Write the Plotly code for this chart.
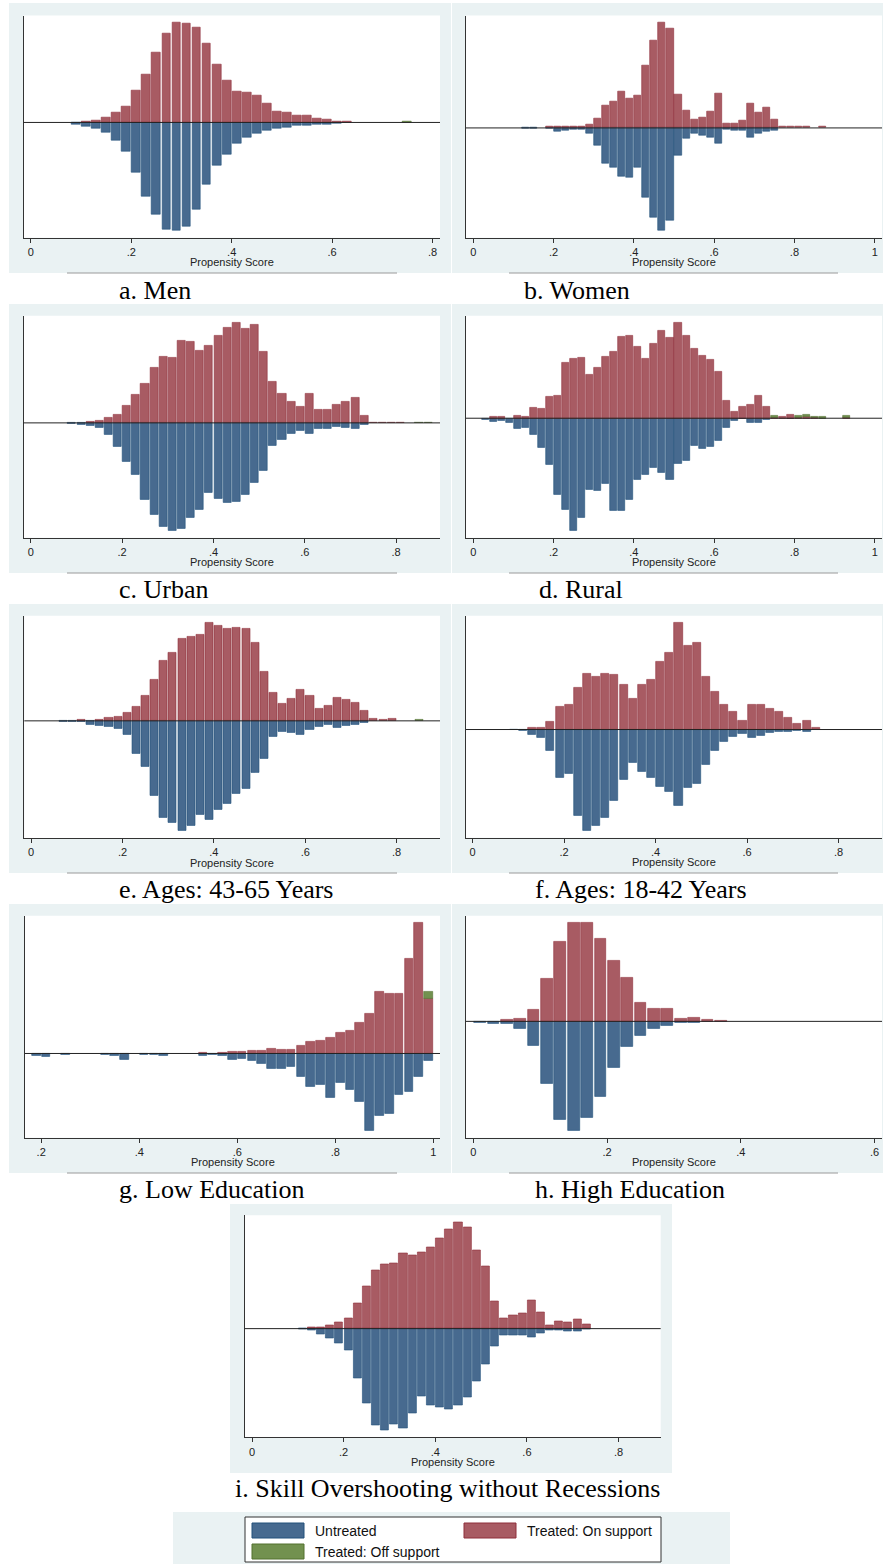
import plotly.graph_objects as go

W, H = 883, 1564
BIN_WIDTH = 0.02

# ---------------- data: histogram bar heights (relative density units) ----------
# a. Men
men_start = 0.09
men_untreated = [5, 11, 19, 30, 55, 86, 150, 223, 278, 323, 325, 313, 261, 186, 128, 95, 63, 46, 33, 23,
                 18, 14, 10, 8, 6, 5, 3]
men_on_support = [0, 4, 7, 16, 29, 49, 97, 144, 211, 268, 300, 296, 284, 237, 175, 125, 94, 89, 81, 57,
                  34, 31, 22, 22, 13, 9, 4, 3]
men_off_start = 0.75
men_off_support = [2]

# b. Women
women_start = 0.13
women_untreated = [2, 2, 0, 3, 11, 7, 5, 4, 18, 53, 108, 118, 145, 148, 118, 210, 268, 308, 277, 82,
                   31, 16, 23, 30, 47, 5, 8, 8, 28, 16, 12, 7]
women_on_support = [0, 0, 0, 3, 5, 5, 5, 3, 11, 27, 67, 80, 109, 87, 96, 186, 262, 316, 299, 101,
                    53, 24, 32, 48, 103, 12, 12, 23, 73, 47, 60, 24, 3, 3, 3, 3, 0, 3]
women_off_start = 0.87
women_off_support = [0]

# c. Urban
urban_start = 0.09
urban_untreated = [3, 4, 8, 15, 35, 73, 116, 156, 231, 275, 311, 324, 318, 284, 260, 211, 227, 240, 236, 217,
                   180, 143, 68, 50, 34, 24, 34, 18, 16, 11, 15, 17, 5]
urban_on_support = [0, 0, 4, 7, 17, 24, 53, 84, 119, 167, 200, 196, 246, 243, 216, 232, 263, 285, 301, 282,
                    295, 215, 124, 89, 64, 50, 87, 40, 39, 55, 64, 77, 22, 2, 2, 2, 1]
urban_off_start = 0.85
urban_off_support = [2, 2]

# d. Rural
rural_start = 0.03
rural_untreated = [3, 11, 6, 14, 30, 28, 50, 89, 139, 230, 276, 338, 298, 214, 218, 198, 279, 278, 245, 185,
                   171, 149, 163, 184, 137, 128, 82, 92, 85, 68, 28, 8, 1, 13, 12, 5, 0, 0, 2]
rural_on_support = [0, 5, 5, 0, 9, 5, 31, 28, 64, 69, 168, 178, 183, 131, 153, 186, 201, 246, 248, 216,
                    180, 225, 263, 243, 287, 249, 209, 187, 176, 141, 53, 20, 36, 41, 67, 34, 3, 6, 10, 3,
                    4, 2, 0, 0, 0, 2]
rural_off_start = 0.75
rural_off_support = [5, 0, 0, 4, 6, 2, 4, 0, 0, 5]

# e. Ages 43-65
older_start = 0.07
older_untreated = [2, 2, 3, 11, 16, 19, 23, 41, 97, 137, 223, 291, 306, 330, 315, 281, 297, 266, 247, 219,
                   204, 155, 113, 47, 32, 36, 42, 28, 18, 12, 20, 15, 13, 7]
older_on_support = [0, 0, 4, 0, 4, 9, 11, 25, 42, 76, 124, 179, 204, 247, 252, 259, 294, 285, 277, 278,
                    275, 234, 147, 85, 52, 66, 93, 75, 36, 44, 69, 63, 54, 30, 7, 3, 6]
older_off_start = 0.85
older_off_support = [3]

# f. Ages 18-42
younger_start = 0.09
younger_untreated = [2, 5, 15, 24, 64, 145, 134, 259, 304, 289, 264, 213, 152, 99, 126, 145, 173, 186, 228, 174,
                     164, 105, 65, 36, 22, 12, 26, 19, 11, 8, 7, 5, 6]
younger_on_support = [0, 0, 7, 7, 25, 70, 76, 126, 169, 159, 169, 164, 135, 93, 135, 149, 203, 231, 321, 253,
                      260, 159, 114, 76, 55, 26, 74, 74, 63, 54, 37, 19, 28, 6]
younger_off_start = 0.75
younger_off_support = [0]

# g. Low education
lowedu_start = 0.19
lowedu_untreated = [8, 11, 0, 4, 0, 0, 0, 4, 8, 18, 0, 4, 4, 8, 0, 0, 0, 8, 4, 8,
                    18, 15, 22, 32, 47, 47, 39, 71, 99, 95, 134, 88, 109, 144, 232, 186, 182, 123, 116, 71, 21]
lowedu_on_support = [0, 0, 0, 0, 0, 0, 0, 0, 0, 0, 0, 0, 0, 0, 0, 0, 0, 2, 0, 2,
                     4, 4, 7, 8, 15, 12, 12, 23, 34, 38, 48, 61, 69, 93, 121, 186, 179, 179, 285, 393, 165]
lowedu_off_start = 0.99
lowedu_off_support = [21]

# h. High education
highedu_start = 0.01
highedu_untreated = [3, 6, 6, 21, 72, 186, 296, 328, 288, 225, 138, 76, 42, 21, 13, 5, 3]
highedu_on_support = [0, 0, 4, 9, 34, 127, 239, 296, 296, 247, 183, 131, 57, 38, 38, 9, 12, 6, 3]
highedu_off_start = 0.37
highedu_off_support = [0]

# i. Skill overshooting without recessions
norec_start = 0.11
norec_untreated = [3, 5, 18, 28, 44, 66, 150, 224, 290, 305, 286, 298, 253, 203, 231, 235, 243, 229, 206, 158,
                   108, 53, 19, 20, 20, 26, 13, 5, 4, 8, 8, 3]
norec_on_support = [0, 4, 5, 10, 18, 32, 76, 127, 175, 194, 196, 225, 219, 229, 244, 270, 297, 319, 305, 234,
                    187, 81, 32, 39, 45, 85, 49, 9, 22, 20, 28, 12]
norec_off_start = 0.73
norec_off_support = [0]

captions = ["a. Men", "b. Women", "c. Urban", "d. Rural", "e. Ages: 43-65 Years", "f. Ages: 18-42 Years",
            "g. Low Education", "h. High Education", "i. Skill Overshooting without Recessions"]
series_names = ["Untreated", "Treated: On support", "Treated: Off support"]
x_title = "Propensity Score"

# ---------------- styling / layout ----------------
BG = "#EAF2F3"
UN_FILL, UN_LINE = "#476A8F", "#22507A"
ON_FILL, ON_LINE = "#A85B63", "#8E2F3B"
OFF_FILL, OFF_LINE = "#72914F", "#52712F"
AXIS = "#333333"
SANS = "Liberation Sans, Arial, sans-serif"
SERIF = "Liberation Serif, Times New Roman, serif"

L0, L1 = 23.5, 440.0      # left column plot area
R0, R1 = 466.0, 882.0     # right column plot area
panels = [
    dict(start=men_start, un=men_untreated, on=men_on_support, off_start=men_off_start, off=men_off_support,
         plot=(L0, 15.5, L1, 237.7), xr=(-0.0147, 0.815), ticks=[0, .2, .4, .6, .8],
         bg=(9, 3, 451, 273), line=(67, 397), cap=(117, 290)),
    dict(start=women_start, un=women_untreated, on=women_on_support, off_start=women_off_start, off=women_off_support,
         plot=(R0, 15.5, R1, 237.7), xr=(-0.018, 1.018), ticks=[0, .2, .4, .6, .8, 1],
         bg=(452, 3, 883, 273), line=(509, 838), cap=(522, 290)),
    dict(start=urban_start, un=urban_untreated, on=urban_on_support, off_start=urban_off_start, off=urban_off_support,
         plot=(L0, 315.7, L1, 537.7), xr=(-0.016, 0.896), ticks=[0, .2, .4, .6, .8],
         bg=(9, 304, 451, 573), line=(67, 397), cap=(117, 589)),
    dict(start=rural_start, un=rural_untreated, on=rural_on_support, off_start=rural_off_start, off=rural_off_support,
         plot=(R0, 315.7, R1, 537.7), xr=(-0.018, 1.018), ticks=[0, .2, .4, .6, .8, 1],
         bg=(452, 304, 883, 573), line=(509, 838), cap=(537, 589)),
    dict(start=older_start, un=older_untreated, on=older_on_support, off_start=older_off_start, off=older_off_support,
         plot=(24.3, 615.7, L1, 838.0), xr=(-0.015, 0.895), ticks=[0, .2, .4, .6, .8],
         bg=(9, 604, 451, 873), line=(67, 397), cap=(117, 889)),
    dict(start=younger_start, un=younger_untreated, on=younger_on_support, off_start=younger_off_start, off=younger_off_support,
         plot=(R0, 615.7, R1, 837.7), xr=(-0.0146, 0.895), ticks=[0, .2, .4, .6, .8],
         bg=(452, 604, 883, 873), line=(509, 838), cap=(533, 889)),
    dict(start=lowedu_start, un=lowedu_untreated, on=lowedu_on_support, off_start=lowedu_off_start, off=lowedu_off_support,
         plot=(25.0, 915.7, L1, 1137.7), xr=(0.167, 1.0136), ticks=[.2, .4, .6, .8, 1],
         bg=(9, 904, 451, 1173), line=(67, 397), cap=(117, 1189)),
    dict(start=highedu_start, un=highedu_untreated, on=highedu_on_support, off_start=highedu_off_start, off=highedu_off_support,
         plot=(R0, 915.7, R1, 1137.7), xr=(-0.011, 0.611), ticks=[0, .2, .4, .6],
         bg=(452, 904, 883, 1173), line=(509, 838), cap=(533, 1189)),
    dict(start=norec_start, un=norec_untreated, on=norec_on_support, off_start=norec_off_start, off=norec_off_support,
         plot=(244.7, 1215.3, 660.7, 1437.3), xr=(-0.016, 0.892), ticks=[0, .2, .4, .6, .8],
         bg=(230, 1204, 672, 1473), line=None, cap=(233, 1488)),
]


def px_x(v):
    return v / W


def px_y(v):
    return 1 - v / H


def centers(start, n):
    return [round(start + BIN_WIDTH * i, 2) for i in range(n)]


def signed(vals, sign):
    return [sign * v if v else None for v in vals]


def tick_label(v):
    if v == 0:
        return "0"
    if v == 1:
        return "1"
    return "." + str(int(round(v * 10)))


fig = go.Figure()
layout = dict(width=W, height=H, margin=dict(l=0, r=0, t=0, b=0), paper_bgcolor="white",
              plot_bgcolor="white", barmode="relative", showlegend=False, bargap=0)
shapes, annotations = [], []

# panel backgrounds first
for p in panels:
    x0, y0, x1, y1 = p["bg"]
    shapes.append(dict(type="rect", xref="paper", yref="paper", x0=px_x(x0), x1=px_x(x1),
                       y0=px_y(y1), y1=px_y(y0), fillcolor=BG, line=dict(width=0), layer="below"))
for p in panels:
    x0, y0, x1, y1 = p["plot"]
    shapes.append(dict(type="rect", xref="paper", yref="paper", x0=px_x(x0), x1=px_x(x1),
                       y0=px_y(y1), y1=px_y(y0), fillcolor="white", line=dict(width=0), layer="below"))
    if p["line"]:
        shapes.append(dict(type="line", xref="paper", yref="paper", x0=px_x(p["line"][0]), x1=px_x(p["line"][1]),
                           y0=px_y(p["bg"][3]), y1=px_y(p["bg"][3]), line=dict(color="#9A9A9A", width=1)))

for i, p in enumerate(panels):
    n = i + 1
    xa = "x" if n == 1 else f"x{n}"
    ya = "y" if n == 1 else f"y{n}"
    xkey = "xaxis" if n == 1 else f"xaxis{n}"
    ykey = "yaxis" if n == 1 else f"yaxis{n}"

    xs_main = centers(p["start"], max(len(p["un"]), len(p["on"])))
    xs_un = xs_main[:len(p["un"])]
    xs_on = xs_main[:len(p["on"])]
    xs_off = centers(p["off_start"], len(p["off"]))
    w = BIN_WIDTH * 0.88

    fig.add_trace(go.Bar(x=xs_un, y=signed(p["un"], -1), xaxis=xa, yaxis=ya, width=w, name=series_names[0],
                         marker=dict(color=UN_FILL, line=dict(color=UN_LINE, width=0.6))))
    fig.add_trace(go.Bar(x=xs_on, y=signed(p["on"], 1), xaxis=xa, yaxis=ya, width=w, name=series_names[1],
                         marker=dict(color=ON_FILL, line=dict(color=ON_LINE, width=0.6))))
    fig.add_trace(go.Bar(x=xs_off, y=signed(p["off"], 1), xaxis=xa, yaxis=ya, width=w, name=series_names[2],
                         marker=dict(color=OFF_FILL, line=dict(color=OFF_LINE, width=0.6))))

    # stacked treated height at each bin
    tot = {}
    for x, v in zip(xs_on, p["on"]):
        tot[x] = tot.get(x, 0) + v
    for x, v in zip(xs_off, p["off"]):
        tot[x] = tot.get(x, 0) + v
    top = max(tot.values())
    bot = max(p["un"])
    pad = 0.034 * (top + bot)

    x0, y0, x1, y1 = p["plot"]
    layout[xkey] = dict(domain=[px_x(x0), px_x(x1)], range=list(p["xr"]), anchor=ya,
                        tickmode="array", tickvals=p["ticks"], ticktext=[tick_label(t) for t in p["ticks"]],
                        ticks="outside", ticklen=4, tickwidth=1, tickcolor=AXIS,
                        showline=True, linecolor=AXIS, linewidth=1, showgrid=False, zeroline=False,
                        tickfont=dict(family=SANS, size=11, color="#222222"), fixedrange=True)
    layout[ykey] = dict(domain=[px_y(y1), px_y(y0)], range=[-(bot + pad), top + pad], anchor=xa,
                        showline=True, linecolor=AXIS, linewidth=1, showgrid=False, zeroline=False,
                        showticklabels=False, ticks="", fixedrange=True)

    # horizontal zero line across the plot region
    shapes.append(dict(type="line", xref=f"{xa} domain", yref=ya, x0=0, x1=1, y0=0, y1=0,
                       line=dict(color="#222222", width=1), layer="above"))

    annotations.append(dict(text=x_title, xref="paper", yref="paper", x=px_x((x0 + x1) / 2),
                            y=px_y(y1 + 24.5), xanchor="center", yanchor="middle", showarrow=False,
                            font=dict(family=SANS, size=11, color="#222222")))
    cx, cy = p["cap"]
    annotations.append(dict(text=captions[i], xref="paper", yref="paper", x=px_x(cx), y=px_y(cy),
                            xanchor="left", yanchor="middle", showarrow=False,
                            font=dict(family=SERIF, size=26, color="black")))

# ---------------- legend (drawn manually) ----------------
shapes.append(dict(type="rect", xref="paper", yref="paper", x0=px_x(173), x1=px_x(730), y0=px_y(1564),
                   y1=px_y(1512), fillcolor=BG, line=dict(width=0), layer="below"))
shapes.append(dict(type="rect", xref="paper", yref="paper", x0=px_x(245), x1=px_x(661), y0=px_y(1562),
                   y1=px_y(1517), fillcolor="white", line=dict(color="#333333", width=1)))
legend_items = [
    (series_names[0], UN_FILL, UN_LINE, 252, 1523),
    (series_names[1], ON_FILL, ON_LINE, 464, 1523),
    (series_names[2], OFF_FILL, OFF_LINE, 252, 1544),
]
for name, fill, edge, lx, ly in legend_items:
    shapes.append(dict(type="rect", xref="paper", yref="paper", x0=px_x(lx), x1=px_x(lx + 52),
                       y0=px_y(ly + 15), y1=px_y(ly), fillcolor=fill, line=dict(color=edge, width=1)))
    annotations.append(dict(text=name, xref="paper", yref="paper", x=px_x(lx + 61), y=px_y(ly + 7.5),
                            xanchor="left", yanchor="middle", showarrow=False,
                            font=dict(family=SANS, size=14, color="#111111")))

layout["shapes"] = shapes
layout["annotations"] = annotations
fig.update_layout(**layout)
fig.write_html("out.html", config={"displayModeBar": False},
               post_script="document.body.style.margin='0';document.body.style.padding='0';"
                           "document.body.style.overflow='hidden';")
